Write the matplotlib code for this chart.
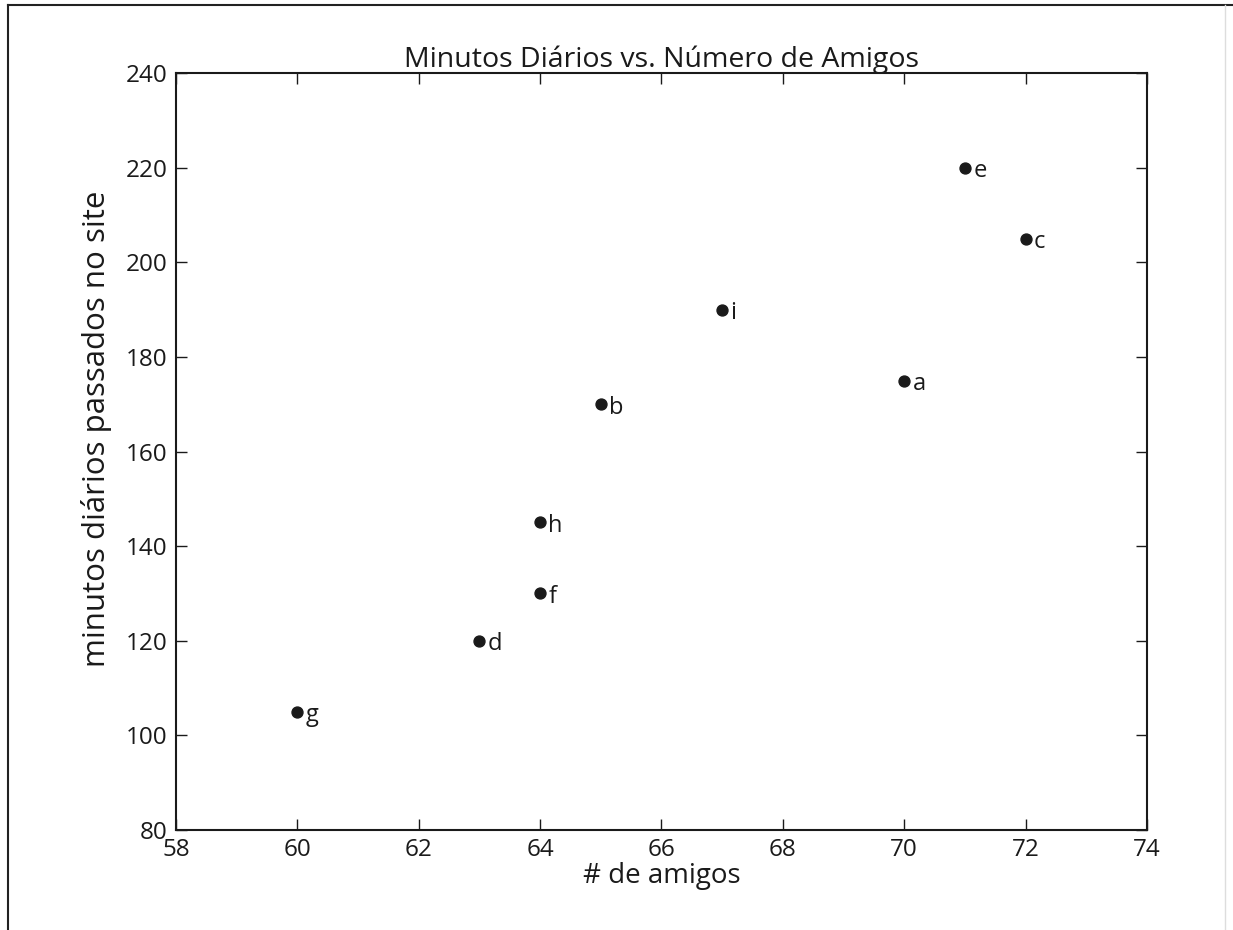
import matplotlib
matplotlib.use('Agg')
from matplotlib import pyplot as plt
from matplotlib.lines import Line2D

plt.rcParams['font.family'] = ['Open Sans', 'DejaVu Sans']

# dados
friends = [70, 65, 72, 63, 71, 64, 60, 64, 67]
minutes = [175, 170, 205, 120, 220, 130, 105, 145, 190]
labels = ['a', 'b', 'c', 'd', 'e', 'f', 'g', 'h', 'i']
x_ticks = [58, 60, 62, 64, 66, 68, 70, 72, 74]
y_ticks = [80, 100, 120, 140, 160, 180, 200, 220, 240]

fig = plt.figure(figsize=(12.33, 9.3), dpi=100)
ax = fig.add_axes([0.1427, 0.1075, 0.7875, 0.814])

ax.scatter(friends, minutes, s=62, color='#1a1a1a', zorder=3)

# rotula cada ponto
for label, friend_count, minute_count in zip(labels, friends, minutes):
    ax.annotate(label, xy=(friend_count, minute_count),
                xytext=(6, -7), textcoords='offset points',
                fontsize=17, color='#1a1a1a')

ax.set_xlim(58, 74)
ax.set_ylim(80, 240)
ax.set_xticks(x_ticks)
ax.set_yticks(y_ticks)
ax.tick_params(labelsize=17.5, direction='in', length=8, width=1,
               top=True, right=True, pad=6, colors='#1a1a1a')
for sp in ax.spines.values():
    sp.set_linewidth(1.5)
    sp.set_color('#1a1a1a')

ax.set_title(u'Minutos Diários vs. Número de Amigos', fontsize=20.5, color='#1a1a1a', pad=4)
ax.set_xlabel('# de amigos', fontsize=20, color='#1a1a1a', labelpad=0)
ax.set_ylabel(u'minutos diários passados no site', fontsize=22.5, color='#1a1a1a')
ax.yaxis.set_label_coords(-0.066, 0.53)

# moldura da figura (esquerda e topo)
fig.add_artist(Line2D([0.0065, 0.0065], [0.0, 0.995], transform=fig.transFigure, color='#222222', lw=1.5))
fig.add_artist(Line2D([0.0065, 1.0], [0.995, 0.995], transform=fig.transFigure, color='#222222', lw=1.5))
fig.add_artist(Line2D([0.9935, 0.9935], [0.0, 0.995], transform=fig.transFigure, color='#dddddd', lw=1))

plt.savefig('out.png')
